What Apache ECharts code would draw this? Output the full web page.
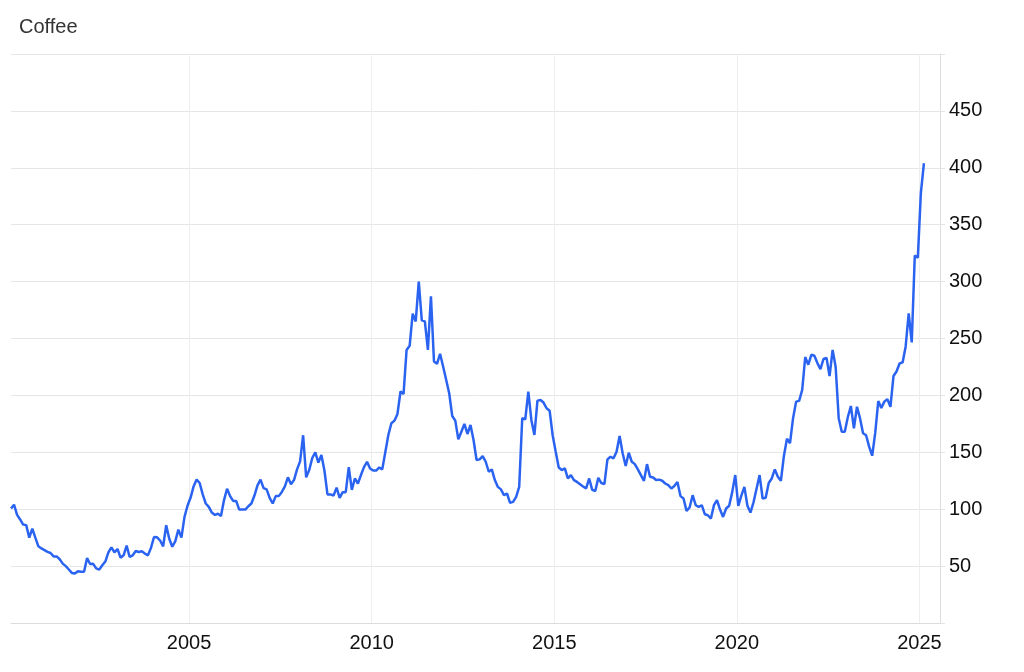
<!DOCTYPE html>
<html>
<head>
<meta charset="utf-8">
<script src="https://cdn.jsdelivr.net/npm/echarts@6/dist/echarts.min.js"></script>
<style>
  html, body { margin: 0; padding: 0; background: #fff; }
  #chart { width: 1024px; height: 672px; }
</style>
</head>
<body>
<div id="chart"></div>
<script>
// Monthly coffee price, starting February 2000 (points dated mid-month)
const startYear = 2000;
const startMonth = 2;
const prices = [
  100.6, 104, 95, 91, 86.5, 86, 75, 83, 75, 67.4, 65.5, 64,
  62.5, 61.5, 58.5, 58.5, 56, 52.2, 50, 47, 44, 43.5, 45.5, 45,
  45, 57, 51.8, 52, 48, 46.9, 50.8, 54, 62, 66.5, 62, 65,
  57.4, 59.5, 68, 58, 59.5, 63.3, 62.4, 63, 61, 59.5, 66, 75.6,
  75.3, 72.5, 67.4, 85.9, 74, 67, 72, 82, 75, 93, 103, 110,
  120, 126, 123, 113, 105, 102, 97, 95, 96, 94, 108, 118,
  111.5, 107.3, 107.3, 99.7, 99.7, 99.7, 102.6, 105, 112, 121, 126, 118.5,
  117.4, 110, 105, 111.5, 111.5, 115.2, 120, 128, 122, 125.6, 135, 142,
  165, 128, 134.4, 145, 150, 141, 147.6, 134, 113, 113, 112, 119,
  110, 115, 115, 137, 117, 127, 122.6, 130, 137, 141.7, 135.8, 134,
  134, 136.7, 135, 150, 165.2, 175.5, 177.8, 183.7, 203.4, 201.3, 240, 243.6,
  271.8, 265, 300, 265.9, 265, 240, 287, 229.8, 227.8, 236.6, 225.4, 213.7,
  201.9, 181.9, 177.8, 161.4, 168.1, 174.9, 166.1, 174, 160.8, 143.2, 143.8, 146.7,
  141.7, 132.9, 135, 125.6, 119.6, 117.4, 112.3, 113.8, 105.6, 106.4, 110.8, 119.6,
  179.9, 179, 203.4, 178.4, 165.2, 195.4, 196, 193.7, 188.7, 186.6, 165, 150.5,
  136.7, 134.4, 135.8, 127, 130, 125.6, 124, 122, 120, 118.2, 127, 117,
  116, 127.5, 123, 122, 143.8, 146.1, 144.7, 150.5, 164.3, 149.1, 137.9, 149.6,
  141.7, 139.6, 135, 130, 124.9, 139.6, 128.5, 127.9, 125.6, 126, 125, 122.6,
  121.1, 118.2, 120.3, 124, 111.5, 109.4, 98.5, 101.5, 112.3, 103.5, 102, 103.5,
  95.6, 94.7, 91.8, 103.5, 108, 99.7, 93.2, 100.6, 103, 115, 130, 103,
  112, 119.6, 103, 97, 106, 118, 130, 109.4, 110, 123, 127, 135,
  128.5, 125, 147, 162, 158, 180, 194.5, 195.2, 204.8, 233.7, 227, 235.7,
  234.8, 228.4, 223, 232, 233, 217, 240, 225, 180, 168, 168, 181,
  190.7, 171, 190, 180, 166.7, 165, 155, 147, 167, 195, 189, 194.5,
  196.7, 190, 217, 221, 228, 229, 243, 272, 246.5, 323, 321, 378, 404
];
const yearTicks = [2005, 2010, 2015, 2020, 2025];
const yTickLabels = [50, 100, 150, 200, 250, 300, 350, 400, 450];

// decimal-year position of each monthly point (mid-month)
const monthX = i => startYear + (startMonth - 1 + i + 0.47) / 12;
const seriesData = prices.map((v, i) => [monthX(i), v]);
const xMin = monthX(0);
const xMax = 2025.563;

const font = '"Helvetica Neue", Helvetica, Arial, "Liberation Sans", sans-serif';
const chart = echarts.init(document.getElementById('chart'), null, { renderer: 'canvas' });
chart.setOption({
  animation: false,
  backgroundColor: '#ffffff',
  title: {
    text: 'Coffee',
    left: 19,
    top: 16,
    padding: 0,
    textStyle: { fontSize: 20, fontWeight: 'normal', color: '#333333', fontFamily: font, lineHeight: 22 }
  },
  grid: { left: 11, right: 84, top: 54, bottom: 49, containLabel: false },
  xAxis: {
    type: 'value',
    min: xMin,
    max: xMax,
    axisLine: { show: true, lineStyle: { color: '#dcdcdc', width: 1 } },
    axisTick: { show: false, customValues: yearTicks },
    axisLabel: {
      customValues: yearTicks,
      formatter: v => String(Math.round(v)),
      fontSize: 20,
      color: '#111111',
      fontFamily: font,
      margin: 10
    },
    splitLine: { show: true, lineStyle: { color: '#eceef2', width: 1 } }
  },
  yAxis: {
    type: 'value',
    position: 'right',
    min: 0,
    max: 500,
    interval: 50,
    axisLine: { show: true, lineStyle: { color: '#dcdcdc', width: 1 } },
    axisTick: { show: true, length: 5, inside: false, lineStyle: { color: '#e3e3e3' } },
    axisLabel: {
      fontSize: 20,
      color: '#111111',
      fontFamily: font,
      margin: 9,
      formatter: v => (yTickLabels.indexOf(v) >= 0 ? String(v) : '')
    },
    splitLine: { show: true, lineStyle: { color: '#e6e6e6', width: 1 } }
  },
  series: [{
    type: 'line',
    name: 'Coffee',
    data: seriesData,
    showSymbol: false,
    symbol: 'none',
    smooth: false,
    lineStyle: { color: '#2b63f1', width: 2.5 },
    itemStyle: { color: '#2b63f1' }
  }]
});
</script>
</body>
</html>
